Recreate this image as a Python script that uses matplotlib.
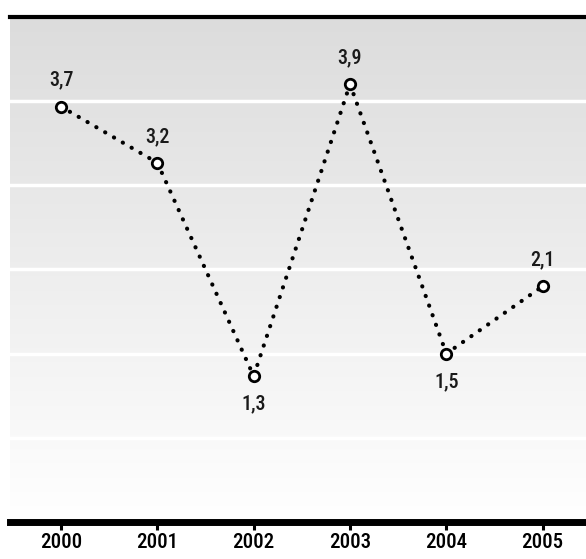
"""Dotted line chart with value labels on a gray gradient background."""

import matplotlib
matplotlib.use('Agg')
import matplotlib.pyplot as plt
import numpy as np
from matplotlib import font_manager

# Data
years = [2000, 2001, 2002, 2003, 2004, 2005]
values = [3.7, 3.2, 1.3, 3.9, 1.5, 2.1]
label_below = [False, False, True, False, True, False]
grid_levels = [0.75, 1.5, 2.25, 3.0, 3.75]

# Pick a condensed font if one is installed
names = {f.name for f in font_manager.fontManager.ttflist}
preferred = ['Liberation Sans Narrow', 'Roboto Condensed', 'Open Sans Condensed',
             'DejaVu Sans', 'Roboto']
fams = [n for n in preferred if n in names] or ['DejaVu Sans']
plt.rcParams['font.family'] = fams
plt.rcParams['font.stretch'] = 'condensed'

fig = plt.figure(figsize=(5.86, 5.59), dpi=100)
fig.patch.set_facecolor('white')
ax = fig.add_axes([0.017, 0.066, 0.983, 0.904])

ax.set_xlim(1999.47, 2005.45)
ax.set_ylim(0, 4.5)

# Gradient background: light gray at top fading to white
grad = np.linspace(0, 1, 256).reshape(-1, 1)
cmap = matplotlib.colors.LinearSegmentedColormap.from_list('bg', ['#ffffff', '#dcdcdc'])
ax.imshow(grad, extent=[0, 1, 0, 1], transform=ax.transAxes, origin='lower',
          aspect='auto', cmap=cmap, zorder=0)

# White horizontal gridlines
for g in grid_levels:
    ax.axhline(g, color='white', linewidth=2.5, zorder=1)

# Dotted line with open markers
ax.plot(years, values, color='black', linewidth=3.0,
        linestyle=(0, (0.05, 2.4)), dash_capstyle='round', zorder=2)
ax.plot(years, values, linestyle='none', marker='o', markersize=7.5,
        markerfacecolor='white', markeredgecolor='black', markeredgewidth=2, zorder=3)

# Value labels
for x, v, below in zip(years, values, label_below):
    txt = f'{v:.1f}'.replace('.', ',')
    offset = -20 if below else 19
    ax.annotate(txt, xy=(x, v), xytext=(0, offset), textcoords='offset points',
                ha='center', va='center', fontsize=14.5, color='#1a1a1a',
                fontweight='medium')

# Spines
for side in ['left', 'right']:
    ax.spines[side].set_visible(False)
ax.spines['top'].set_linewidth(3)
ax.spines['bottom'].set_linewidth(5)

ax.set_yticks([])
ax.set_xticks(years)
ax.set_xticklabels([str(y) for y in years], fontsize=15, fontweight='medium')
ax.tick_params(axis='x', direction='out', length=6, width=2.2, pad=2, colors='black')

fig.savefig('out.png', dpi=100, facecolor='white')
plt.close(fig)
